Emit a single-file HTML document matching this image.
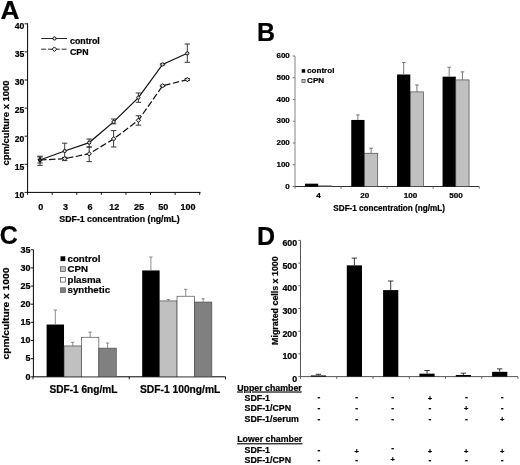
<!DOCTYPE html>
<html><head><meta charset="utf-8"><title>Figure</title>
<style>html,body{margin:0;padding:0;background:#fff;}svg{display:block;}text{stroke:#000;stroke-width:0.22px;}</style></head>
<body><svg width="520" height="465" viewBox="0 0 520 465" font-family="Liberation Sans, Arial, Helvetica, sans-serif" font-weight="bold" fill="#000">
<rect width="520" height="465" fill="#fff"/>
<text transform="translate(0.6,18.8) scale(1.05,1)" font-size="25" text-anchor="start" stroke="#000" stroke-width="0.3">A</text>
<text x="257.0" y="40.7" font-size="25" text-anchor="start" stroke="#000" stroke-width="0.3">B</text>
<text x="-0.3" y="244.3" font-size="25" text-anchor="start" stroke="#000" stroke-width="0.3">C</text>
<text x="257.1" y="244.5" font-size="25" text-anchor="start" stroke="#000" stroke-width="0.3">D</text>
<line x1="27.6" y1="23.3" x2="27.6" y2="192.4" stroke="#000" stroke-width="1" />
<line x1="27.1" y1="192.4" x2="200.5" y2="192.4" stroke="#000" stroke-width="1" />
<line x1="24.6" y1="192.4" x2="27.6" y2="192.4" stroke="#000" stroke-width="0.9" />
<text x="24.3" y="197.70000000000002" font-size="8.6" text-anchor="end" >10</text>
<line x1="24.6" y1="164.3" x2="27.6" y2="164.3" stroke="#000" stroke-width="0.9" />
<text x="24.3" y="169.60000000000002" font-size="8.6" text-anchor="end" >15</text>
<line x1="24.6" y1="136.2" x2="27.6" y2="136.2" stroke="#000" stroke-width="0.9" />
<text x="24.3" y="141.5" font-size="8.6" text-anchor="end" >20</text>
<line x1="24.6" y1="108.10000000000001" x2="27.6" y2="108.10000000000001" stroke="#000" stroke-width="0.9" />
<text x="24.3" y="113.4" font-size="8.6" text-anchor="end" >25</text>
<line x1="24.6" y1="80.0" x2="27.6" y2="80.0" stroke="#000" stroke-width="0.9" />
<text x="24.3" y="85.3" font-size="8.6" text-anchor="end" >30</text>
<line x1="24.6" y1="51.900000000000006" x2="27.6" y2="51.900000000000006" stroke="#000" stroke-width="0.9" />
<text x="24.3" y="57.2" font-size="8.6" text-anchor="end" >35</text>
<line x1="24.6" y1="23.80000000000001" x2="27.6" y2="23.80000000000001" stroke="#000" stroke-width="0.9" />
<text x="24.3" y="29.100000000000012" font-size="8.6" text-anchor="end" >40</text>
<line x1="27.6" y1="192.4" x2="27.6" y2="194.9" stroke="#000" stroke-width="0.9" />
<line x1="52.19" y1="192.4" x2="52.19" y2="194.9" stroke="#000" stroke-width="0.9" />
<line x1="76.78" y1="192.4" x2="76.78" y2="194.9" stroke="#000" stroke-width="0.9" />
<line x1="101.37" y1="192.4" x2="101.37" y2="194.9" stroke="#000" stroke-width="0.9" />
<line x1="125.96000000000001" y1="192.4" x2="125.96000000000001" y2="194.9" stroke="#000" stroke-width="0.9" />
<line x1="150.55" y1="192.4" x2="150.55" y2="194.9" stroke="#000" stroke-width="0.9" />
<line x1="175.14" y1="192.4" x2="175.14" y2="194.9" stroke="#000" stroke-width="0.9" />
<line x1="199.73" y1="192.4" x2="199.73" y2="194.9" stroke="#000" stroke-width="0.9" />
<text x="40.7" y="209.5" font-size="9.0" text-anchor="middle" >0</text>
<text x="65.4" y="209.5" font-size="9.0" text-anchor="middle" >3</text>
<text x="89.9" y="209.5" font-size="9.0" text-anchor="middle" >6</text>
<text x="114.3" y="209.5" font-size="9.0" text-anchor="middle" >12</text>
<text x="139.1" y="209.5" font-size="9.0" text-anchor="middle" >25</text>
<text x="163.29999999999998" y="209.5" font-size="9.0" text-anchor="middle" >50</text>
<text x="188.0" y="209.5" font-size="9.0" text-anchor="middle" >100</text>
<text x="119.5" y="222.3" font-size="8.77" text-anchor="middle" >SDF-1 concentration (ng/mL)</text>
<text transform="translate(8.7,123) rotate(-90) scale(1.074,1)" font-size="8.8" text-anchor="middle">cpm/culture x 1000</text>
<polyline points="40,160 64.7,151 89.2,142.6 113.6,121.9 138.4,97.6 162.6,64.4 187.3,53.3" fill="none" stroke="#111" stroke-width="1.25"/>
<polyline points="40,160 64.7,158.7 89.2,153.8 113.6,138.9 138.4,120.3 162.6,85.8 187.3,79.6" fill="none" stroke="#111" stroke-width="1.25" stroke-dasharray="6.5,2.5"/>
<line x1="40" y1="156.2" x2="40" y2="165.4" stroke="#222" stroke-width="0.9" />
<line x1="37.3" y1="156.2" x2="42.7" y2="156.2" stroke="#222" stroke-width="0.9" />
<line x1="37.3" y1="165.4" x2="42.7" y2="165.4" stroke="#222" stroke-width="0.9" />
<circle cx="40" cy="160" r="1.6" fill="#ddd" stroke="#111" stroke-width="1"/>
<line x1="64.7" y1="143.2" x2="64.7" y2="157.7" stroke="#222" stroke-width="0.9" />
<line x1="62.0" y1="143.2" x2="67.4" y2="143.2" stroke="#222" stroke-width="0.9" />
<line x1="62.0" y1="157.7" x2="67.4" y2="157.7" stroke="#222" stroke-width="0.9" />
<circle cx="64.7" cy="151" r="1.6" fill="#ddd" stroke="#111" stroke-width="1"/>
<line x1="89.2" y1="139" x2="89.2" y2="147" stroke="#222" stroke-width="0.9" />
<line x1="86.5" y1="139" x2="91.9" y2="139" stroke="#222" stroke-width="0.9" />
<line x1="86.5" y1="147" x2="91.9" y2="147" stroke="#222" stroke-width="0.9" />
<circle cx="89.2" cy="142.6" r="1.6" fill="#ddd" stroke="#111" stroke-width="1"/>
<line x1="113.6" y1="119" x2="113.6" y2="123.8" stroke="#222" stroke-width="0.9" />
<line x1="110.89999999999999" y1="119" x2="116.3" y2="119" stroke="#222" stroke-width="0.9" />
<line x1="110.89999999999999" y1="123.8" x2="116.3" y2="123.8" stroke="#222" stroke-width="0.9" />
<circle cx="113.6" cy="121.9" r="1.6" fill="#ddd" stroke="#111" stroke-width="1"/>
<line x1="138.4" y1="93" x2="138.4" y2="102.3" stroke="#222" stroke-width="0.9" />
<line x1="135.70000000000002" y1="93" x2="141.1" y2="93" stroke="#222" stroke-width="0.9" />
<line x1="135.70000000000002" y1="102.3" x2="141.1" y2="102.3" stroke="#222" stroke-width="0.9" />
<circle cx="138.4" cy="97.6" r="1.6" fill="#ddd" stroke="#111" stroke-width="1"/>
<line x1="162.6" y1="63.8" x2="162.6" y2="65.0" stroke="#222" stroke-width="0.9" />
<line x1="159.9" y1="63.8" x2="165.29999999999998" y2="63.8" stroke="#222" stroke-width="0.9" />
<line x1="159.9" y1="65.0" x2="165.29999999999998" y2="65.0" stroke="#222" stroke-width="0.9" />
<circle cx="162.6" cy="64.4" r="1.6" fill="#ddd" stroke="#111" stroke-width="1"/>
<line x1="187.3" y1="44" x2="187.3" y2="62.3" stroke="#222" stroke-width="0.9" />
<line x1="184.60000000000002" y1="44" x2="190.0" y2="44" stroke="#222" stroke-width="0.9" />
<line x1="184.60000000000002" y1="62.3" x2="190.0" y2="62.3" stroke="#222" stroke-width="0.9" />
<circle cx="187.3" cy="53.3" r="1.6" fill="#ddd" stroke="#111" stroke-width="1"/>
<line x1="40" y1="157" x2="40" y2="163" stroke="#222" stroke-width="0.9" />
<line x1="37.3" y1="157" x2="42.7" y2="157" stroke="#222" stroke-width="0.9" />
<line x1="37.3" y1="163" x2="42.7" y2="163" stroke="#222" stroke-width="0.9" />
<path d="M37.8,160 L40,157.8 L42.2,160 L40,162.2 Z" fill="#333" stroke="#111" stroke-width="1"/>
<line x1="64.7" y1="157.3" x2="64.7" y2="160.6" stroke="#222" stroke-width="0.9" />
<line x1="62.0" y1="157.3" x2="67.4" y2="157.3" stroke="#222" stroke-width="0.9" />
<line x1="62.0" y1="160.6" x2="67.4" y2="160.6" stroke="#222" stroke-width="0.9" />
<path d="M62.5,158.7 L64.7,156.5 L66.9,158.7 L64.7,160.89999999999998 Z" fill="#ddd" stroke="#111" stroke-width="1"/>
<line x1="89.2" y1="147" x2="89.2" y2="161.6" stroke="#222" stroke-width="0.9" />
<line x1="86.5" y1="147" x2="91.9" y2="147" stroke="#222" stroke-width="0.9" />
<line x1="86.5" y1="161.6" x2="91.9" y2="161.6" stroke="#222" stroke-width="0.9" />
<path d="M87.0,153.8 L89.2,151.60000000000002 L91.4,153.8 L89.2,156.0 Z" fill="#ddd" stroke="#111" stroke-width="1"/>
<line x1="113.6" y1="130.6" x2="113.6" y2="147" stroke="#222" stroke-width="0.9" />
<line x1="110.89999999999999" y1="130.6" x2="116.3" y2="130.6" stroke="#222" stroke-width="0.9" />
<line x1="110.89999999999999" y1="147" x2="116.3" y2="147" stroke="#222" stroke-width="0.9" />
<path d="M111.39999999999999,138.9 L113.6,136.70000000000002 L115.8,138.9 L113.6,141.1 Z" fill="#ddd" stroke="#111" stroke-width="1"/>
<line x1="138.4" y1="115.7" x2="138.4" y2="125.2" stroke="#222" stroke-width="0.9" />
<line x1="135.70000000000002" y1="115.7" x2="141.1" y2="115.7" stroke="#222" stroke-width="0.9" />
<line x1="135.70000000000002" y1="125.2" x2="141.1" y2="125.2" stroke="#222" stroke-width="0.9" />
<path d="M136.20000000000002,120.3 L138.4,118.1 L140.6,120.3 L138.4,122.5 Z" fill="#ddd" stroke="#111" stroke-width="1"/>
<line x1="162.6" y1="85.2" x2="162.6" y2="86.4" stroke="#222" stroke-width="0.9" />
<line x1="159.9" y1="85.2" x2="165.29999999999998" y2="85.2" stroke="#222" stroke-width="0.9" />
<line x1="159.9" y1="86.4" x2="165.29999999999998" y2="86.4" stroke="#222" stroke-width="0.9" />
<path d="M160.4,85.8 L162.6,83.6 L164.79999999999998,85.8 L162.6,88.0 Z" fill="#ddd" stroke="#111" stroke-width="1"/>
<line x1="187.3" y1="78.6" x2="187.3" y2="80.6" stroke="#222" stroke-width="0.9" />
<line x1="184.60000000000002" y1="78.6" x2="190.0" y2="78.6" stroke="#222" stroke-width="0.9" />
<line x1="184.60000000000002" y1="80.6" x2="190.0" y2="80.6" stroke="#222" stroke-width="0.9" />
<path d="M185.10000000000002,79.6 L187.3,77.39999999999999 L189.5,79.6 L187.3,81.8 Z" fill="#ddd" stroke="#111" stroke-width="1"/>
<line x1="41.2" y1="38.5" x2="67" y2="38.5" stroke="#111" stroke-width="0.9" />
<circle cx="54.5" cy="38.5" r="1.6" fill="#ddd" stroke="#111" stroke-width="1"/>
<line x1="41.2" y1="49.2" x2="67" y2="49.2" stroke="#111" stroke-width="0.9" stroke-dasharray="5,1.8"/>
<path d="M52.1,49.2 L54.4,46.9 L56.7,49.2 L54.4,51.5 Z" fill="#eee" stroke="#111" stroke-width="1"/>
<text x="70" y="44.1" font-size="8.8" text-anchor="start" >control</text>
<text x="70" y="54.5" font-size="8.8" text-anchor="start" >CPN</text>
<line x1="295" y1="56.0" x2="295" y2="186.5" stroke="#777" stroke-width="0.9" />
<line x1="295" y1="186.5" x2="479.3" y2="186.5" stroke="#333" stroke-width="1" />
<line x1="292.7" y1="186.5" x2="295" y2="186.5" stroke="#6a6a6a" stroke-width="0.9" />
<text x="289.8" y="188.7" font-size="8.0" text-anchor="end" >0</text>
<line x1="292.7" y1="164.75" x2="295" y2="164.75" stroke="#6a6a6a" stroke-width="0.9" />
<text x="289.8" y="166.95" font-size="8.0" text-anchor="end" >100</text>
<line x1="292.7" y1="143.0" x2="295" y2="143.0" stroke="#6a6a6a" stroke-width="0.9" />
<text x="289.8" y="145.2" font-size="8.0" text-anchor="end" >200</text>
<line x1="292.7" y1="121.25" x2="295" y2="121.25" stroke="#6a6a6a" stroke-width="0.9" />
<text x="289.8" y="123.45" font-size="8.0" text-anchor="end" >300</text>
<line x1="292.7" y1="99.5" x2="295" y2="99.5" stroke="#6a6a6a" stroke-width="0.9" />
<text x="289.8" y="101.7" font-size="8.0" text-anchor="end" >400</text>
<line x1="292.7" y1="77.75" x2="295" y2="77.75" stroke="#6a6a6a" stroke-width="0.9" />
<text x="289.8" y="79.95" font-size="8.0" text-anchor="end" >500</text>
<line x1="292.7" y1="56.0" x2="295" y2="56.0" stroke="#6a6a6a" stroke-width="0.9" />
<text x="289.8" y="58.2" font-size="8.0" text-anchor="end" >600</text>
<line x1="295.0" y1="186.5" x2="295.0" y2="188.8" stroke="#6a6a6a" stroke-width="0.9" />
<line x1="341.05" y1="186.5" x2="341.05" y2="188.8" stroke="#6a6a6a" stroke-width="0.9" />
<line x1="387.1" y1="186.5" x2="387.1" y2="188.8" stroke="#6a6a6a" stroke-width="0.9" />
<line x1="433.15" y1="186.5" x2="433.15" y2="188.8" stroke="#6a6a6a" stroke-width="0.9" />
<line x1="479.2" y1="186.5" x2="479.2" y2="188.8" stroke="#6a6a6a" stroke-width="0.9" />
<rect x="304.95" y="183.67" width="13.25" height="2.83" fill="#000"/>
<rect x="318.20" y="185.85" width="13.25" height="0.65" fill="#c0c0c0" stroke="#333" stroke-width="0.6"/>
<rect x="351.25" y="119.95" width="13.25" height="66.55" fill="#000"/>
<rect x="364.50" y="153.22" width="13.25" height="33.28" fill="#c0c0c0" stroke="#333" stroke-width="0.6"/>
<line x1="357.875" y1="119.94500000000001" x2="357.875" y2="114.9425" stroke="#6a6a6a" stroke-width="0.9" />
<line x1="356.075" y1="114.9425" x2="359.675" y2="114.9425" stroke="#6a6a6a" stroke-width="0.9" />
<line x1="371.125" y1="153.2225" x2="371.125" y2="148.22" stroke="#6a6a6a" stroke-width="0.9" />
<line x1="369.325" y1="148.22" x2="372.925" y2="148.22" stroke="#6a6a6a" stroke-width="0.9" />
<rect x="397.05" y="74.49" width="13.25" height="112.01" fill="#000"/>
<rect x="410.30" y="91.89" width="13.25" height="94.61" fill="#c0c0c0" stroke="#333" stroke-width="0.6"/>
<line x1="403.675" y1="74.4875" x2="403.675" y2="62.525000000000006" stroke="#6a6a6a" stroke-width="0.9" />
<line x1="401.875" y1="62.525000000000006" x2="405.475" y2="62.525000000000006" stroke="#6a6a6a" stroke-width="0.9" />
<line x1="416.925" y1="91.8875" x2="416.925" y2="84.9275" stroke="#6a6a6a" stroke-width="0.9" />
<line x1="415.125" y1="84.9275" x2="418.725" y2="84.9275" stroke="#6a6a6a" stroke-width="0.9" />
<rect x="442.55" y="76.66" width="13.25" height="109.84" fill="#000"/>
<rect x="455.80" y="79.92" width="13.25" height="106.58" fill="#c0c0c0" stroke="#333" stroke-width="0.6"/>
<line x1="449.175" y1="76.6625" x2="449.175" y2="67.31" stroke="#6a6a6a" stroke-width="0.9" />
<line x1="447.375" y1="67.31" x2="450.975" y2="67.31" stroke="#6a6a6a" stroke-width="0.9" />
<line x1="462.425" y1="79.925" x2="462.425" y2="71.8775" stroke="#6a6a6a" stroke-width="0.9" />
<line x1="460.625" y1="71.8775" x2="464.225" y2="71.8775" stroke="#6a6a6a" stroke-width="0.9" />
<text x="318.4" y="198.3" font-size="8.1" text-anchor="middle" >4</text>
<text x="364.7" y="198.3" font-size="8.1" text-anchor="middle" >20</text>
<text x="410.5" y="198.3" font-size="8.1" text-anchor="middle" >100</text>
<text x="456.0" y="198.3" font-size="8.1" text-anchor="middle" >500</text>
<text x="389.1" y="210.6" font-size="8.15" text-anchor="middle" >SDF-1 concentration (ng/mL)</text>
<rect x="301.70" y="69.20" width="3.50" height="3.50" fill="#000"/>
<rect x="301.90" y="79.30" width="3.20" height="3.20" fill="#c0c0c0" stroke="#333" stroke-width="0.6"/>
<text x="307.1" y="73.3" font-size="8.05" text-anchor="start" >control</text>
<text x="307.1" y="83.0" font-size="8.05" text-anchor="start" >CPN</text>
<line x1="33.4" y1="249.75" x2="33.4" y2="376.8" stroke="#000" stroke-width="1" />
<line x1="33.4" y1="376.8" x2="225.5" y2="376.8" stroke="#000" stroke-width="1" />
<line x1="30.9" y1="376.8" x2="33.4" y2="376.8" stroke="#000" stroke-width="0.9" />
<text x="30.4" y="379.6" font-size="9" text-anchor="end" >0</text>
<line x1="30.9" y1="358.65000000000003" x2="33.4" y2="358.65000000000003" stroke="#000" stroke-width="0.9" />
<text x="30.4" y="361.45000000000005" font-size="9" text-anchor="end" >5</text>
<line x1="30.9" y1="340.5" x2="33.4" y2="340.5" stroke="#000" stroke-width="0.9" />
<text x="30.4" y="343.3" font-size="9" text-anchor="end" >10</text>
<line x1="30.9" y1="322.35" x2="33.4" y2="322.35" stroke="#000" stroke-width="0.9" />
<text x="30.4" y="325.15000000000003" font-size="9" text-anchor="end" >15</text>
<line x1="30.9" y1="304.20000000000005" x2="33.4" y2="304.20000000000005" stroke="#000" stroke-width="0.9" />
<text x="30.4" y="307.00000000000006" font-size="9" text-anchor="end" >20</text>
<line x1="30.9" y1="286.05" x2="33.4" y2="286.05" stroke="#000" stroke-width="0.9" />
<text x="30.4" y="288.85" font-size="9" text-anchor="end" >25</text>
<line x1="30.9" y1="267.90000000000003" x2="33.4" y2="267.90000000000003" stroke="#000" stroke-width="0.9" />
<text x="30.4" y="270.70000000000005" font-size="9" text-anchor="end" >30</text>
<line x1="30.9" y1="249.75" x2="33.4" y2="249.75" stroke="#000" stroke-width="0.9" />
<text x="30.4" y="252.55" font-size="9" text-anchor="end" >35</text>
<line x1="33" y1="376.8" x2="33" y2="379.3" stroke="#000" stroke-width="0.9" />
<line x1="129.25" y1="376.8" x2="129.25" y2="379.3" stroke="#000" stroke-width="0.9" />
<line x1="225.5" y1="376.8" x2="225.5" y2="379.3" stroke="#000" stroke-width="0.9" />
<rect x="46.60" y="324.53" width="17.42" height="52.27" fill="#000"/>
<line x1="55.31" y1="324.528" x2="55.31" y2="310.00800000000004" stroke="#707070" stroke-width="0.8" />
<line x1="53.61" y1="310.00800000000004" x2="57.010000000000005" y2="310.00800000000004" stroke="#707070" stroke-width="0.8" />
<rect x="64.02" y="345.94" width="17.42" height="30.86" fill="#c0c0c0" stroke="#333" stroke-width="0.6"/>
<line x1="72.73000000000002" y1="345.945" x2="72.73000000000002" y2="342.315" stroke="#707070" stroke-width="0.8" />
<line x1="71.03000000000002" y1="342.315" x2="74.43000000000002" y2="342.315" stroke="#707070" stroke-width="0.8" />
<rect x="81.44" y="337.23" width="17.42" height="39.57" fill="#fff" stroke="#333" stroke-width="0.6"/>
<line x1="90.15" y1="337.233" x2="90.15" y2="332.151" stroke="#707070" stroke-width="0.8" />
<line x1="88.45" y1="332.151" x2="91.85000000000001" y2="332.151" stroke="#707070" stroke-width="0.8" />
<rect x="98.86" y="348.12" width="17.42" height="28.68" fill="#808080" stroke="#444" stroke-width="0.6"/>
<line x1="107.57000000000002" y1="348.123" x2="107.57000000000002" y2="343.041" stroke="#707070" stroke-width="0.8" />
<line x1="105.87000000000002" y1="343.041" x2="109.27000000000002" y2="343.041" stroke="#707070" stroke-width="0.8" />
<rect x="142.20" y="270.44" width="17.42" height="106.36" fill="#000"/>
<line x1="150.91" y1="270.44100000000003" x2="150.91" y2="257.01" stroke="#707070" stroke-width="0.8" />
<line x1="149.21" y1="257.01" x2="152.60999999999999" y2="257.01" stroke="#707070" stroke-width="0.8" />
<rect x="159.62" y="300.93" width="17.42" height="75.87" fill="#c0c0c0" stroke="#333" stroke-width="0.6"/>
<line x1="168.33" y1="300.933" x2="168.33" y2="299.481" stroke="#707070" stroke-width="0.8" />
<line x1="166.63000000000002" y1="299.481" x2="170.03" y2="299.481" stroke="#707070" stroke-width="0.8" />
<rect x="177.04" y="296.21" width="17.42" height="80.59" fill="#fff" stroke="#333" stroke-width="0.6"/>
<line x1="185.75" y1="296.214" x2="185.75" y2="289.317" stroke="#707070" stroke-width="0.8" />
<line x1="184.05" y1="289.317" x2="187.45" y2="289.317" stroke="#707070" stroke-width="0.8" />
<rect x="194.46" y="302.02" width="17.42" height="74.78" fill="#808080" stroke="#444" stroke-width="0.6"/>
<line x1="203.17" y1="302.022" x2="203.17" y2="298.755" stroke="#707070" stroke-width="0.8" />
<line x1="201.47" y1="298.755" x2="204.86999999999998" y2="298.755" stroke="#707070" stroke-width="0.8" />
<text x="83.4" y="392.8" font-size="10.1" text-anchor="middle" >SDF-1 6ng/mL</text>
<text x="180.2" y="392.5" font-size="10.25" text-anchor="middle" >SDF-1 100ng/mL</text>
<text transform="translate(9.1,313.6) rotate(-90) scale(1.135,1)" font-size="9.0" text-anchor="middle">cpm/culture x 1000</text>
<rect x="60.50" y="256.30" width="4.80" height="4.80" fill="#000"/>
<text x="67.5" y="261.7" font-size="9.7" text-anchor="start" >control</text>
<rect x="60.50" y="266.80" width="4.80" height="4.80" fill="#c0c0c0" stroke="#333" stroke-width="0.6"/>
<text x="67.5" y="272.2" font-size="9.7" text-anchor="start" >CPN</text>
<rect x="60.50" y="277.30" width="4.80" height="4.80" fill="#fff" stroke="#333" stroke-width="0.6"/>
<text x="67.5" y="282.7" font-size="9.7" text-anchor="start" >plasma</text>
<rect x="60.50" y="287.80" width="4.80" height="4.80" fill="#808080" stroke="#444" stroke-width="0.6"/>
<text x="67.5" y="293.2" font-size="9.7" text-anchor="start" >synthetic</text>
<line x1="300.5" y1="240.4" x2="300.5" y2="376.6" stroke="#555" stroke-width="1" />
<line x1="300.5" y1="376.6" x2="518" y2="376.6" stroke="#555" stroke-width="1" />
<line x1="298.3" y1="376.6" x2="300.5" y2="376.6" stroke="#555" stroke-width="0.9" />
<text transform="translate(297.1,382.1) scale(1.05,1)" font-size="8.4" text-anchor="end" >0</text>
<line x1="298.3" y1="353.90000000000003" x2="300.5" y2="353.90000000000003" stroke="#555" stroke-width="0.9" />
<text transform="translate(297.1,359.40000000000003) scale(1.05,1)" font-size="8.4" text-anchor="end" >100</text>
<line x1="298.3" y1="331.20000000000005" x2="300.5" y2="331.20000000000005" stroke="#555" stroke-width="0.9" />
<text transform="translate(297.1,336.70000000000005) scale(1.05,1)" font-size="8.4" text-anchor="end" >200</text>
<line x1="298.3" y1="308.5" x2="300.5" y2="308.5" stroke="#555" stroke-width="0.9" />
<text transform="translate(297.1,314.0) scale(1.05,1)" font-size="8.4" text-anchor="end" >300</text>
<line x1="298.3" y1="285.8" x2="300.5" y2="285.8" stroke="#555" stroke-width="0.9" />
<text transform="translate(297.1,291.3) scale(1.05,1)" font-size="8.4" text-anchor="end" >400</text>
<line x1="298.3" y1="263.1" x2="300.5" y2="263.1" stroke="#555" stroke-width="0.9" />
<text transform="translate(297.1,268.6) scale(1.05,1)" font-size="8.4" text-anchor="end" >500</text>
<line x1="298.3" y1="240.4" x2="300.5" y2="240.4" stroke="#555" stroke-width="0.9" />
<text transform="translate(297.1,245.9) scale(1.05,1)" font-size="8.4" text-anchor="end" >600</text>
<line x1="300.5" y1="376.6" x2="300.5" y2="378.90000000000003" stroke="#555" stroke-width="0.9" />
<line x1="336.75" y1="376.6" x2="336.75" y2="378.90000000000003" stroke="#555" stroke-width="0.9" />
<line x1="373.0" y1="376.6" x2="373.0" y2="378.90000000000003" stroke="#555" stroke-width="0.9" />
<line x1="409.25" y1="376.6" x2="409.25" y2="378.90000000000003" stroke="#555" stroke-width="0.9" />
<line x1="445.5" y1="376.6" x2="445.5" y2="378.90000000000003" stroke="#555" stroke-width="0.9" />
<line x1="481.75" y1="376.6" x2="481.75" y2="378.90000000000003" stroke="#555" stroke-width="0.9" />
<line x1="518.0" y1="376.6" x2="518.0" y2="378.90000000000003" stroke="#555" stroke-width="0.9" />
<rect x="310.80" y="375.47" width="15.20" height="1.13" fill="#000"/>
<line x1="318.4" y1="375.46500000000003" x2="318.4" y2="374.33000000000004" stroke="#222" stroke-width="0.9" />
<line x1="315.7" y1="374.33000000000004" x2="321.09999999999997" y2="374.33000000000004" stroke="#222" stroke-width="0.9" />
<rect x="346.80" y="265.37" width="15.20" height="111.23" fill="#000"/>
<line x1="354.4" y1="265.37" x2="354.4" y2="258.106" stroke="#222" stroke-width="0.9" />
<line x1="351.7" y1="258.106" x2="357.09999999999997" y2="258.106" stroke="#222" stroke-width="0.9" />
<rect x="383.10" y="290.11" width="15.20" height="86.49" fill="#000"/>
<line x1="390.7" y1="290.113" x2="390.7" y2="281.033" stroke="#222" stroke-width="0.9" />
<line x1="388.0" y1="281.033" x2="393.4" y2="281.033" stroke="#222" stroke-width="0.9" />
<rect x="419.40" y="373.65" width="15.20" height="2.95" fill="#000"/>
<line x1="427.0" y1="373.649" x2="427.0" y2="370.471" stroke="#222" stroke-width="0.9" />
<line x1="424.3" y1="370.471" x2="429.7" y2="370.471" stroke="#222" stroke-width="0.9" />
<rect x="455.80" y="375.01" width="15.20" height="1.59" fill="#000"/>
<line x1="463.4" y1="375.011" x2="463.4" y2="373.19500000000005" stroke="#222" stroke-width="0.9" />
<line x1="460.7" y1="373.19500000000005" x2="466.09999999999997" y2="373.19500000000005" stroke="#222" stroke-width="0.9" />
<rect x="492.10" y="371.83" width="15.20" height="4.77" fill="#000"/>
<line x1="499.7" y1="371.833" x2="499.7" y2="368.882" stroke="#222" stroke-width="0.9" />
<line x1="497.0" y1="368.882" x2="502.4" y2="368.882" stroke="#222" stroke-width="0.9" />
<text transform="translate(277.9,300.6) rotate(-90) scale(1.02,1)" font-size="8.7" text-anchor="middle">Migrated cells x 1000</text>
<text x="237.2" y="390.6" font-size="8.8" text-anchor="start" text-decoration="underline">Upper chamber</text>
<text x="244.6" y="400.9" font-size="8.8" text-anchor="start" >SDF-1</text>
<text x="244.6" y="411.3" font-size="8.8" text-anchor="start" >SDF-1/CPN</text>
<text x="244.6" y="421.9" font-size="8.8" text-anchor="start" >SDF-1/serum</text>
<text x="237.2" y="442.3" font-size="8.8" text-anchor="start" text-decoration="underline">Lower chamber</text>
<text x="244.6" y="452.7" font-size="8.8" text-anchor="start" >SDF-1</text>
<text x="244.6" y="463.0" font-size="8.8" text-anchor="start" >SDF-1/CPN</text>
<text x="319" y="399.9" font-size="8.5" text-anchor="middle" stroke="#000" stroke-width="0.3">-</text>
<text x="356.7" y="399.9" font-size="8.5" text-anchor="middle" stroke="#000" stroke-width="0.3">-</text>
<text x="392.6" y="399.9" font-size="8.5" text-anchor="middle" stroke="#000" stroke-width="0.3">-</text>
<text x="429.9" y="400.5" font-size="7.5" text-anchor="middle" stroke="#000" stroke-width="0.3">+</text>
<text x="466.3" y="399.9" font-size="8.5" text-anchor="middle" stroke="#000" stroke-width="0.3">-</text>
<text x="502.2" y="399.9" font-size="8.5" text-anchor="middle" stroke="#000" stroke-width="0.3">-</text>
<text x="319" y="410.8" font-size="8.5" text-anchor="middle" stroke="#000" stroke-width="0.3">-</text>
<text x="356.7" y="410.8" font-size="8.5" text-anchor="middle" stroke="#000" stroke-width="0.3">-</text>
<text x="392.6" y="410.8" font-size="8.5" text-anchor="middle" stroke="#000" stroke-width="0.3">-</text>
<text x="429.9" y="410.8" font-size="8.5" text-anchor="middle" stroke="#000" stroke-width="0.3">-</text>
<text x="466.3" y="411.4" font-size="7.5" text-anchor="middle" stroke="#000" stroke-width="0.3">+</text>
<text x="502.2" y="410.8" font-size="8.5" text-anchor="middle" stroke="#000" stroke-width="0.3">-</text>
<text x="319" y="421.6" font-size="8.5" text-anchor="middle" stroke="#000" stroke-width="0.3">-</text>
<text x="356.7" y="421.6" font-size="8.5" text-anchor="middle" stroke="#000" stroke-width="0.3">-</text>
<text x="392.6" y="421.6" font-size="8.5" text-anchor="middle" stroke="#000" stroke-width="0.3">-</text>
<text x="429.9" y="421.6" font-size="8.5" text-anchor="middle" stroke="#000" stroke-width="0.3">-</text>
<text x="466.3" y="421.6" font-size="8.5" text-anchor="middle" stroke="#000" stroke-width="0.3">-</text>
<text x="502.2" y="422.2" font-size="7.5" text-anchor="middle" stroke="#000" stroke-width="0.3">+</text>
<text x="319" y="453.1" font-size="8.5" text-anchor="middle" stroke="#000" stroke-width="0.3">-</text>
<text x="356.7" y="453.7" font-size="7.5" text-anchor="middle" stroke="#000" stroke-width="0.3">+</text>
<text x="392.6" y="450.8" font-size="8.5" text-anchor="middle" stroke="#000" stroke-width="0.3">-</text>
<text x="429.9" y="453.7" font-size="7.5" text-anchor="middle" stroke="#000" stroke-width="0.3">+</text>
<text x="466.3" y="453.7" font-size="7.5" text-anchor="middle" stroke="#000" stroke-width="0.3">+</text>
<text x="502.2" y="453.7" font-size="7.5" text-anchor="middle" stroke="#000" stroke-width="0.3">+</text>
<text x="319" y="463.0" font-size="8.5" text-anchor="middle" stroke="#000" stroke-width="0.3">-</text>
<text x="356.7" y="463.0" font-size="8.5" text-anchor="middle" stroke="#000" stroke-width="0.3">-</text>
<text x="392.6" y="462.0" font-size="7.5" text-anchor="middle" stroke="#000" stroke-width="0.3">+</text>
<text x="429.9" y="463.0" font-size="8.5" text-anchor="middle" stroke="#000" stroke-width="0.3">-</text>
<text x="466.3" y="463.0" font-size="8.5" text-anchor="middle" stroke="#000" stroke-width="0.3">-</text>
<text x="502.2" y="463.0" font-size="8.5" text-anchor="middle" stroke="#000" stroke-width="0.3">-</text>
</svg></body></html>
